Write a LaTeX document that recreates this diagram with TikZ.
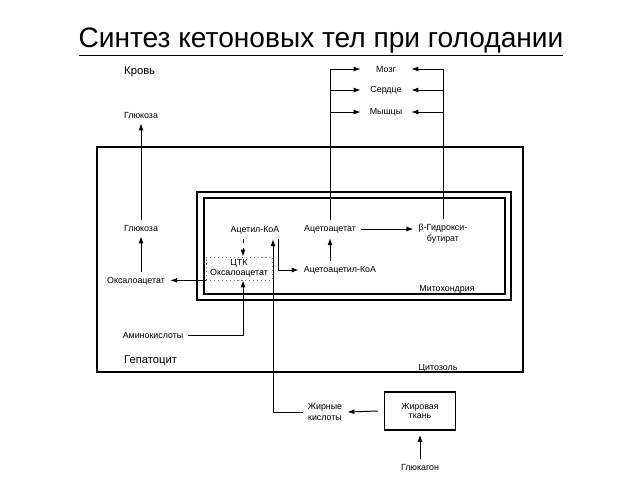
\documentclass[tikz,border=0pt]{standalone}
\usepackage{fontspec}
\setmainfont{Liberation Sans}
\usetikzlibrary{arrows.meta}
\usetikzlibrary{calc}
\usetikzlibrary{positioning}

\begin{document}
\begin{tikzpicture}[x=0.025cm,y=-0.025cm,
  every node/.style={font=\fontsize{6.3}{7.8}\selectfont, inner sep=3.5pt},
  arr/.style={-{Latex[length=5pt,width=3.5pt]}, line width=0.7pt},
  organ/.style={minimum width=1.25cm, inner sep=0pt},
  big/.style={font=\fontsize{8}{9}\selectfont},
  boxed/.style={draw, line width=0.8pt, align=center, font=\fontsize{6.3}{7}\selectfont}]
  \useasboundingbox (0,0) rectangle (640,480);

  % title
  \node (title) at (321,42) {\fontsize{20}{24}\selectfont\underline{Синтез кетоновых тел при голодании}};

  %% blood
  \node[big, anchor=west] (blood) at (119,72) {Кровь};
  \node (glu1) at (141,115) {Глюкоза};
  \node[organ] (brain) at (386,69) {Мозг};
  \node[organ] (heart) at (386,90) {Сердце};
  \node[organ] (muscle) at (386,112) {Мышцы};

  %% hepatocyte
  \draw[line width=0.9pt] (97,147) rectangle (523,372);
  \node[big, anchor=west] (hepat) at (119,361) {Гепатоцит};
  \node (cytosol) at (438,368) {Цитозоль};
  \node (glu2) at (141,228) {Глюкоза};
  \node (oaa) at (136,281) {Оксалоацетат};
  \node (amino) at (153,335) {Аминокислоты};

  % mitochondrion
  \draw[line width=0.9pt] (197,192) rectangle (511,300);
  \draw[line width=0.9pt] (204,198) rectangle (505,294);
  \node (mito) at (447,289) {Митохондрия};
  \node (acoa) at (255,230) {Ацетил-КоА};
  \node[boxed, dotted, line width=0.5pt, draw=gray, minimum width=1.65cm, minimum height=0.575cm, inner sep=0pt] (ctk) at (239,268.5) {ЦТК\\Оксалоацетат};
  \coordinate (ctkin) at ($(ctk.north)+(4,0)$);
  \coordinate (ctkout) at ($(ctk.south)+(4,0)$);
  \node (acac) at (330,229) {Ацетоацетат};
  \node (acacoa) at (340,270) {Ацетоацетил-КоА};
  \node[align=center] (bhb) at (443,234) {β-Гидрокси-\\бутират};

  %% adipose tissue
  \node[align=center] (fa) at (325,412) {Жирные\\кислоты};
  \node[boxed, minimum width=1.775cm, minimum height=0.95cm] (adipose) at (420,411) {Жировая\\ткань};
  \node (glucagon) at (420,467) {Глюкагон};

  % arrows
  \draw[arr] (glu2) -- (glu1);
  \draw[arr] (oaa.north -| glu2) -- (glu2);
  \draw[arr] (ctk.south west) -- (ctk.south west -| oaa.east);
  \draw[arr] (amino.east) -| (ctkout);
  \draw[arr, dashed] (ctkin |- acoa.south) -- (ctkin);
  \draw[arr] ($(acoa.south)+(23,0)$) |- (acacoa);
  \draw[arr] (acac |- acacoa.north) -- (acac);
  \draw[arr] (acac.east) -- (acac.east -| bhb.west);
  \draw[arr] (acac.north) |- (brain);
  \draw[arr] (acac.north |- heart) -- (heart);
  \draw[arr] (acac.north |- muscle) -- (muscle);
  \draw[arr] (bhb.north) |- (brain);
  \draw[arr] (bhb.north |- heart) -- (heart);
  \draw[arr] (bhb.north |- muscle) -- (muscle);
  \draw[arr] (fa.west) -| ($(acoa.south)+(18,0)$);
  \draw[arr] ($(adipose.west)+(-6,0)$) -- (fa.east);
  \draw[arr, shorten >=3pt] (glucagon) -- (adipose);
\end{tikzpicture}
\end{document}
